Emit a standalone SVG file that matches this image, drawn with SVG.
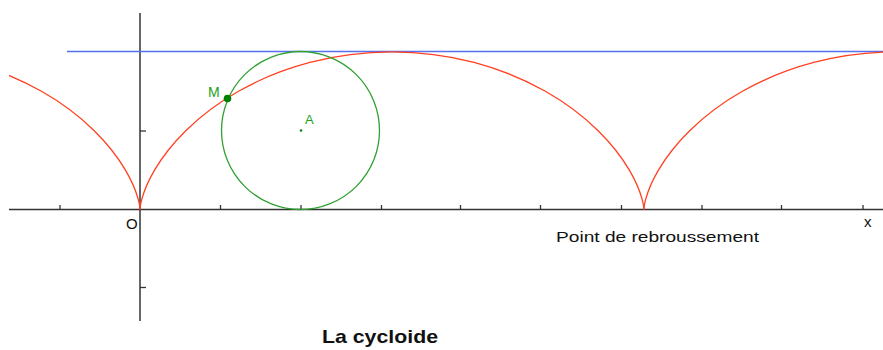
<svg xmlns="http://www.w3.org/2000/svg" width="883" height="350" viewBox="0 0 883 350">
<style>
.axis{stroke:#333;stroke-width:1.5;fill:none}
.tick{stroke:#333;stroke-width:1.3}
.cyc{stroke:#ff4020;stroke-width:1.3;fill:none}
.lbl{font-family:"Liberation Sans",Arial,sans-serif;fill:#111}
.glbl{font-family:"Liberation Sans",Arial,sans-serif;fill:#22a022}
</style>
<defs>
<clipPath id="clip"><rect x="9" y="0" width="874" height="350"/></clipPath>
<path id="arch" d="M0,0 C0,0 0.014,-3.683 1.89,-10.56 C3.766,-17.437 7.53,-27.49 14.53,-39.4 C21.53,-51.31 31.78,-65.05 45.78,-78.8 C59.78,-92.55 77.52,-106.29 98.52,-118.2 C119.52,-130.11 143.74,-140.16 169.86,-147.04 C195.98,-153.92 223.96,-157.6 251.95,-157.6 C279.94,-157.6 307.92,-153.92 334.04,-147.04 C360.16,-140.16 384.38,-130.11 405.38,-118.2 C426.38,-106.29 444.12,-92.55 458.12,-78.8 C472.12,-65.05 482.37,-51.31 489.37,-39.4 C496.37,-27.49 500.13,-17.437 502.01,-10.56 C503.886,-3.683 503.9,0 503.9,0"/>
</defs>
<rect width="883" height="350" fill="#fff"/>
<g id="axes">
<line class="axis" x1="9" y1="209.5" x2="883" y2="209.5"/>
<line class="axis" x1="140" y1="13" x2="140" y2="321"/>
<g class="tick">
<line x1="60" y1="205" x2="60" y2="209"/>
<line x1="220.5" y1="205" x2="220.5" y2="209"/>
<line x1="301" y1="205" x2="301" y2="209"/>
<line x1="381.5" y1="205" x2="381.5" y2="209"/>
<line x1="460.5" y1="205" x2="460.5" y2="209"/>
<line x1="540.5" y1="205" x2="540.5" y2="209"/>
<line x1="621.5" y1="205" x2="621.5" y2="209"/>
<line x1="702" y1="205" x2="702" y2="209"/>
<line x1="781.5" y1="205" x2="781.5" y2="209"/>
<line x1="863" y1="205" x2="863" y2="209"/>
<line x1="140" y1="131" x2="146" y2="131"/>
<line x1="140" y1="287.5" x2="146" y2="287.5"/>
</g>
</g>
<g id="tangent">
<line x1="67" y1="51.5" x2="883" y2="51.5" stroke="#5470f0" stroke-width="1.5"/>
</g>
<g id="cycloid" clip-path="url(#clip)">
<use href="#arch" class="cyc" transform="translate(-363.9,209.5)"/>
<use href="#arch" class="cyc" transform="translate(140,209.5)"/>
<use href="#arch" class="cyc" transform="translate(643.9,209.5)"/>
</g>
<g id="circle">
<circle cx="300.5" cy="130.5" r="79" fill="none" stroke="#30a030" stroke-width="1.3"/>
<circle cx="301" cy="130.5" r="1.3" fill="#108010"/>
<text class="glbl" x="305" y="124" font-size="13">A</text>
</g>
<g id="pointM">
<circle cx="227.5" cy="98.5" r="3.8" fill="#008000"/>
<text class="glbl" x="208" y="97" font-size="14">M</text>
</g>
<g id="labels">
<text class="lbl" x="126" y="229" font-size="15">O</text>
<text class="lbl" x="864" y="227" font-size="15">x</text>
<text class="lbl" x="556" y="242" font-size="15" textLength="203" lengthAdjust="spacingAndGlyphs">Point de rebroussement</text>
<text class="lbl" x="322" y="343" font-size="19" font-weight="bold" textLength="116" lengthAdjust="spacingAndGlyphs">La cycloide</text>
</g>
</svg>
